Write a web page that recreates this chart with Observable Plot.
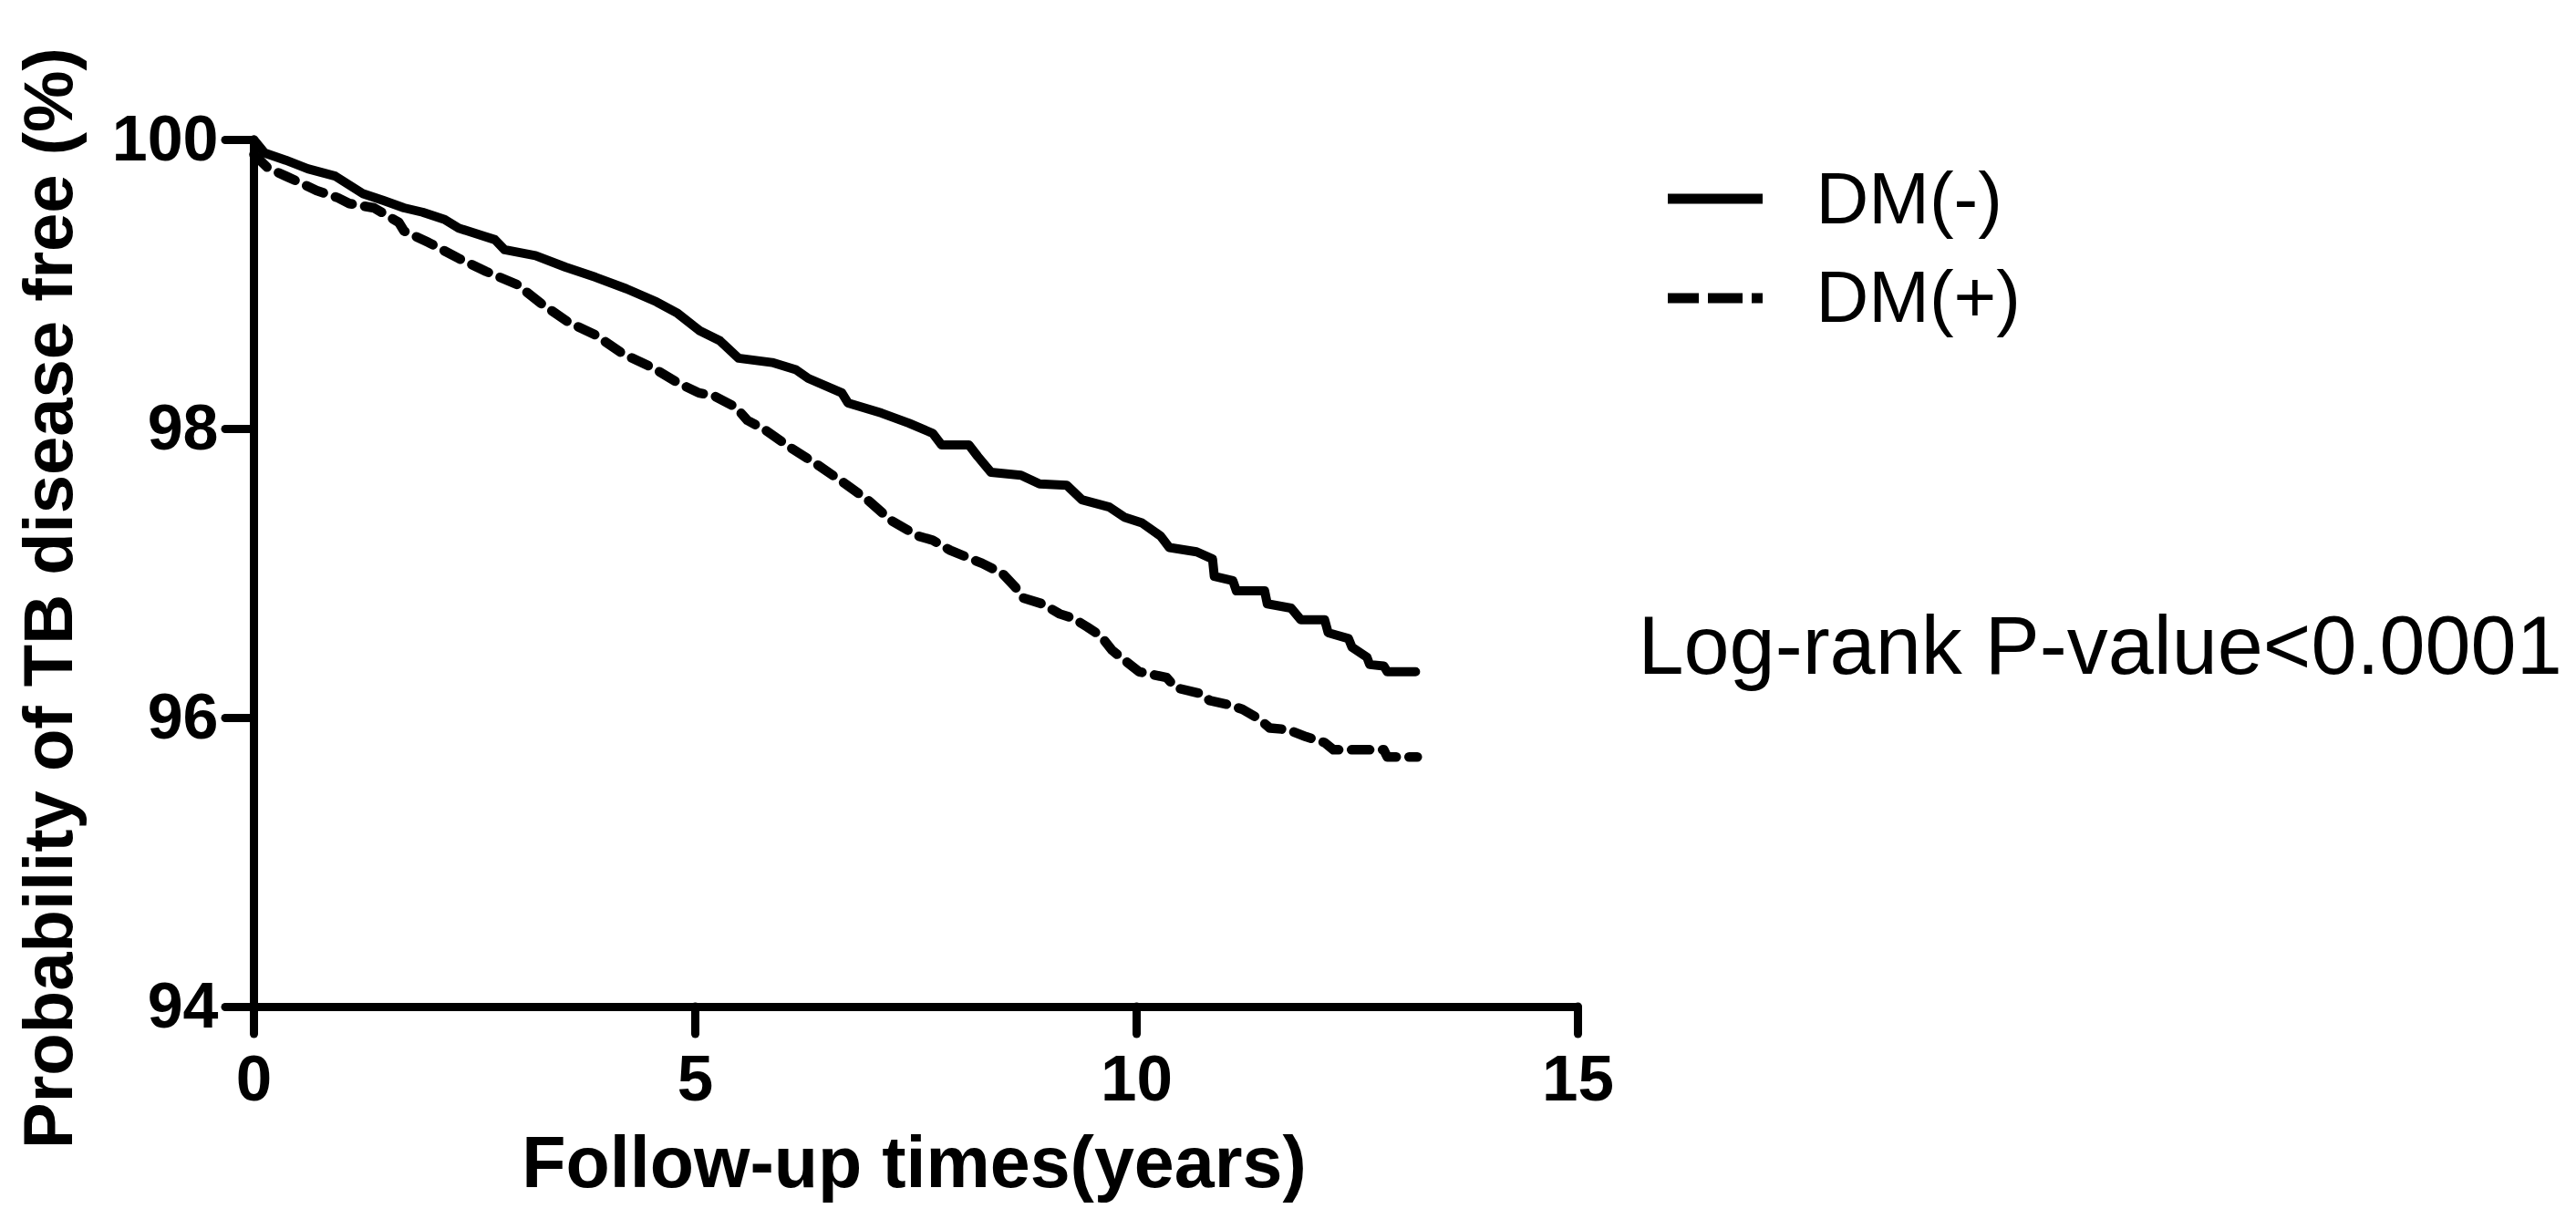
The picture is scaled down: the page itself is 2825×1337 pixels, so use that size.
<!DOCTYPE html>
<html>
<head>
<meta charset="utf-8">
<script src="https://cdn.jsdelivr.net/npm/d3@7"></script>
<script src="https://cdn.jsdelivr.net/npm/@observablehq/plot@0.6"></script>
<style>
  html, body { margin: 0; padding: 0; background: #fff; }
  svg { display: block; }
</style>
</head>
<body>
<div id="chart"></div>
<script>
// ---- data ----
const seriesNames = ["DM(-)", "DM(+)"];

const timesNeg = [0,0.12,0.36,0.61,0.92,1.23,1.47,1.70,1.91,2.16,2.32,2.73,2.84,3.19,3.53,3.87,4.22,4.56,4.80,5.05,5.28,5.49,5.87,6.14,6.28,6.66,6.73,7.11,7.42,7.69,7.79,8.10,8.20,8.35,8.69,8.90,9.21,9.38,9.69,9.86,10.06,10.27,10.37,10.68,10.86,10.88,11.09,11.13,11.45,11.48,11.75,11.86,12.13,12.17,12.40,12.44,12.61,12.64,12.80,12.84,13.16];
const survNeg  = [100,99.91,99.86,99.80,99.75,99.63,99.58,99.53,99.50,99.45,99.39,99.31,99.24,99.20,99.12,99.05,98.97,98.88,98.80,98.68,98.61,98.49,98.46,98.41,98.35,98.25,98.18,98.11,98.04,97.97,97.89,97.89,97.81,97.70,97.68,97.62,97.61,97.51,97.46,97.39,97.35,97.26,97.18,97.15,97.10,96.98,96.95,96.88,96.88,96.79,96.76,96.68,96.68,96.59,96.55,96.49,96.42,96.37,96.36,96.32,96.32];

const timesPos = [0,0.15,0.36,0.54,0.71,0.95,1.08,1.36,1.64,1.70,1.98,2.32,2.63,2.98,3.25,3.56,3.87,4.18,4.53,4.80,5.04,5.21,5.46,5.59,5.80,6.08,6.39,6.70,6.97,7.21,7.52,7.69,7.89,8.25,8.48,8.62,8.72,8.93,9.13,9.28,9.44,9.59,9.72,9.82,10.03,10.34,10.44,10.72,10.83,11.06,11.20,11.37,11.51,11.71,11.92,12.13,12.23,12.80,12.84,13.18];
const survPos  = [99.9,99.81,99.75,99.70,99.65,99.60,99.56,99.53,99.43,99.37,99.29,99.18,99.09,99.00,98.87,98.74,98.65,98.52,98.42,98.32,98.25,98.23,98.15,98.06,97.99,97.87,97.75,97.62,97.50,97.37,97.26,97.23,97.16,97.07,97.00,96.91,96.83,96.79,96.72,96.69,96.63,96.57,96.47,96.42,96.32,96.28,96.21,96.17,96.12,96.09,96.06,96.00,95.93,95.92,95.87,95.83,95.78,95.78,95.73,95.73];

const xTicks = [0, 5, 10, 15];
const yTicks = [94, 96, 98, 100];
const xDomain = [0, 15];
const yDomain = [94, 100];

const xLabel = "Follow-up times(years)";
const yLabel = "Probability of TB disease free (%)";
const pLabel = "Log-rank P-value<0.0001";

// ---- build ----
const neg = timesNeg.map((t, i) => ({t, s: survNeg[i]}));
const pos = timesPos.map((t, i) => ({t, s: survPos[i]}));

const FONT = "Arial, 'Liberation Sans', Helvetica, sans-serif";

const chart = Plot.plot({
  width: 2825,
  height: 1337,
  marginLeft: 278,
  marginRight: 1095,
  marginTop: 153,
  marginBottom: 233,
  style: {fontFamily: FONT, background: "#fff", color: "#000", overflow: "visible"},
  x: {domain: xDomain},
  y: {domain: yDomain},
  marks: [
    Plot.line(neg, {x: "t", y: "s", stroke: "#000", strokeWidth: 10, strokeLinejoin: "round", strokeLinecap: "round"}),
    Plot.line(pos, {x: "t", y: "s", stroke: "#000", strokeWidth: 10.5, strokeLinejoin: "round", strokeLinecap: "round", strokeDasharray: "20,14"}),
    Plot.ruleX([xDomain[0]], {y1: yDomain[0], y2: yDomain[1], stroke: "#000", strokeWidth: 9, strokeLinecap: "round"}),
    Plot.ruleY([yDomain[0]], {x1: xDomain[0], x2: xDomain[1], stroke: "#000", strokeWidth: 9, strokeLinecap: "round"}),
    Plot.axisY({ticks: yTicks, tickSize: 31, tickPadding: 8, fontSize: 70, fontWeight: "bold",
      strokeWidth: 9, strokeLinecap: "round", label: null, tickFormat: d => String(d)}),
    Plot.axisX({ticks: xTicks, tickSize: 30, tickPadding: 22, fontSize: 71, fontWeight: "bold",
      strokeWidth: 9, strokeLinecap: "round", label: null, tickFormat: d => String(d)}),
    Plot.text([yLabel], {frameAnchor: "left", rotate: -90, textAnchor: "middle", lineAnchor: "middle",
      dx: -224, dy: 27, fontSize: 76, fontWeight: "bold", fill: "#000"}),
    Plot.text([xLabel], {frameAnchor: "bottom", textAnchor: "middle", lineAnchor: "middle",
      dx: -2, dy: 172, fontSize: 79, fontWeight: "bold", fill: "#000"}),
    Plot.text([seriesNames[0]], {frameAnchor: "top-right", textAnchor: "start", lineAnchor: "middle",
      dx: 261, dy: 66, fontSize: 80, fill: "#000"}),
    Plot.text([seriesNames[1]], {frameAnchor: "top-right", textAnchor: "start", lineAnchor: "middle",
      dx: 261, dy: 174, fontSize: 80, fill: "#000"}),
    Plot.text([pLabel], {frameAnchor: "top-right", textAnchor: "start", lineAnchor: "middle",
      dx: 66, dy: 557, fontSize: 90, fill: "#000"})
  ]
});

// legend swatches (line samples)
const svg = d3.select(chart);
const fx = 2825 - 1095; // frame right edge
const fy = 153;         // frame top edge
svg.append("line")
  .attr("x1", fx + 99).attr("x2", fx + 203)
  .attr("y1", fy + 65).attr("y2", fy + 65)
  .attr("stroke", "#000").attr("stroke-width", 11);
svg.append("line")
  .attr("x1", fx + 99).attr("x2", fx + 203)
  .attr("y1", fy + 174).attr("y2", fy + 174)
  .attr("stroke", "#000").attr("stroke-width", 11)
  .attr("stroke-dasharray", "34,10,38,10,12");

document.getElementById("chart").appendChild(chart);
</script>
</body>
</html>
